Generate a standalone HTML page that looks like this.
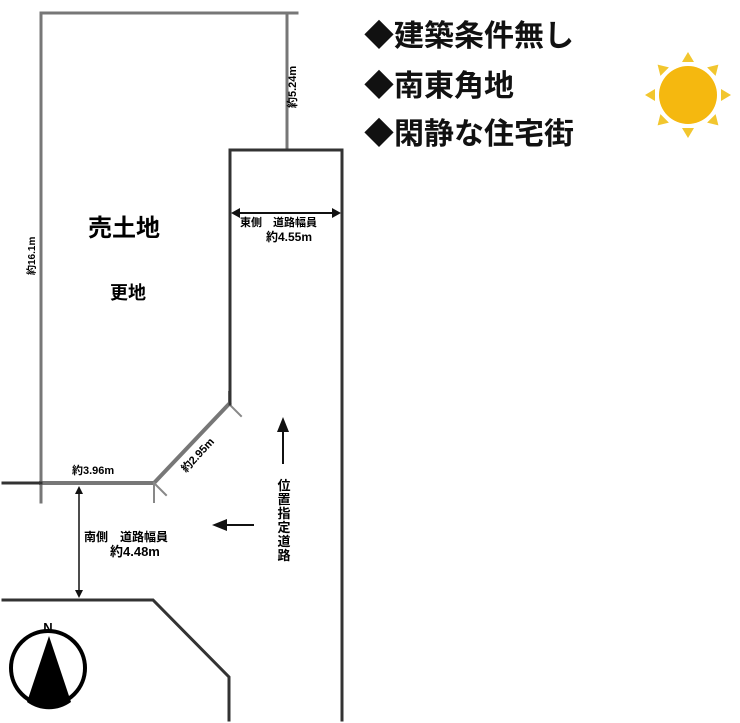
<!DOCTYPE html>
<html><head><meta charset="utf-8"><style>
html,body{margin:0;padding:0;background:#fff;width:740px;height:723px;overflow:hidden}
svg{display:block}
text{font-family:"Liberation Sans","Noto Sans CJK JP",sans-serif}
</style></head><body>
<svg width="740" height="723" viewBox="0 0 740 723" xmlns="http://www.w3.org/2000/svg">
<g fill="none" stroke-linecap="square">
<path d="M41 13 H297" stroke="#777" stroke-width="3"/>
<path d="M41 13 V502" stroke="#777" stroke-width="3"/>
<path d="M287 13 V150" stroke="#777" stroke-width="3"/>
<path d="M41 483 H154 L229 404" stroke="#777" stroke-width="4"/>
<path d="M154 483 V502 M154 483 L166 495 M229 404 V392 M229 404 L241 416" stroke="#888" stroke-width="2"/>
<path d="M230 404 V150 H342 V720" stroke="#333" stroke-width="3"/>
<path d="M3 483 H41" stroke="#333" stroke-width="3"/>
<path d="M3 600 H153 L229 677 V720" stroke="#333" stroke-width="3"/>
<path d="M79 490 V594" stroke="#111" stroke-width="1.5"/>
<path d="M236 213 H336" stroke="#111" stroke-width="2"/>
<path d="M226 525 H253" stroke="#111" stroke-width="2"/>
<path d="M283 430 V463" stroke="#111" stroke-width="2"/>
</g>
<g fill="#111">
<path d="M79 486 L75 494 H83Z M79 598 L75 590 H83Z"/>
<path d="M231 213 L240 208 V218Z M341 213 L332 208 V218Z"/>
<path d="M212 525 L227 519 V531Z"/>
<path d="M283 417 L277 432 H289Z"/>
</g>
<circle cx="48" cy="668" r="37" fill="#fff" stroke="#000" stroke-width="4"/>
<path d="M49 636 L27 702 A37 37 0 0 0 71 702 Z" fill="#000"/>
<text x="48" y="632" font-size="13" font-weight="bold" text-anchor="middle">N</text>
<circle cx="688" cy="95" r="29" fill="#f5b80f"/>
<g fill="#f2c62e" transform="translate(688 95)">
<path d="M0 -43 l-6 10 h12z" transform="rotate(0)"/>
<path d="M0 -43 l-6 10 h12z" transform="rotate(45)"/>
<path d="M0 -43 l-6 10 h12z" transform="rotate(90)"/>
<path d="M0 -43 l-6 10 h12z" transform="rotate(135)"/>
<path d="M0 -43 l-6 10 h12z" transform="rotate(180)"/>
<path d="M0 -43 l-6 10 h12z" transform="rotate(225)"/>
<path d="M0 -43 l-6 10 h12z" transform="rotate(270)"/>
<path d="M0 -43 l-6 10 h12z" transform="rotate(315)"/>
</g>
<text x="88" y="236" font-size="24" font-weight="bold">売土地</text>
<text x="110" y="299" font-size="18" font-weight="bold">更地</text>
<text x="72" y="474" font-size="11" font-weight="bold">約3.96m</text>
<text transform="translate(186 473) rotate(-47)" font-size="11" font-weight="bold">約2.95m</text>
<text transform="translate(35 275) rotate(-90)" font-size="10" font-weight="bold">約16.1m</text>
<text transform="translate(296 108) rotate(-90)" font-size="11" font-weight="bold">約5.24m</text>
<text x="240" y="226" font-size="11" font-weight="bold">東側　道路幅員</text>
<text x="266" y="241" font-size="12" font-weight="bold">約4.55m</text>
<text x="84" y="541" font-size="12" font-weight="bold">南側　道路幅員</text>
<text x="110" y="556" font-size="13" font-weight="bold">約4.48m</text>
<g font-size="13" font-weight="bold" text-anchor="middle">
<text x="284" y="490">位</text><text x="284" y="504">置</text><text x="284" y="518">指</text><text x="284" y="532">定</text><text x="284" y="546">道</text><text x="284" y="560">路</text>
</g>
<g font-size="30" font-weight="bold" fill="#111">
<text x="364" y="46">◆建築条件無し</text>
<text x="364" y="96">◆南東角地</text>
<text x="364" y="144">◆閑静な住宅街</text>
</g>
</svg>
</body></html>
